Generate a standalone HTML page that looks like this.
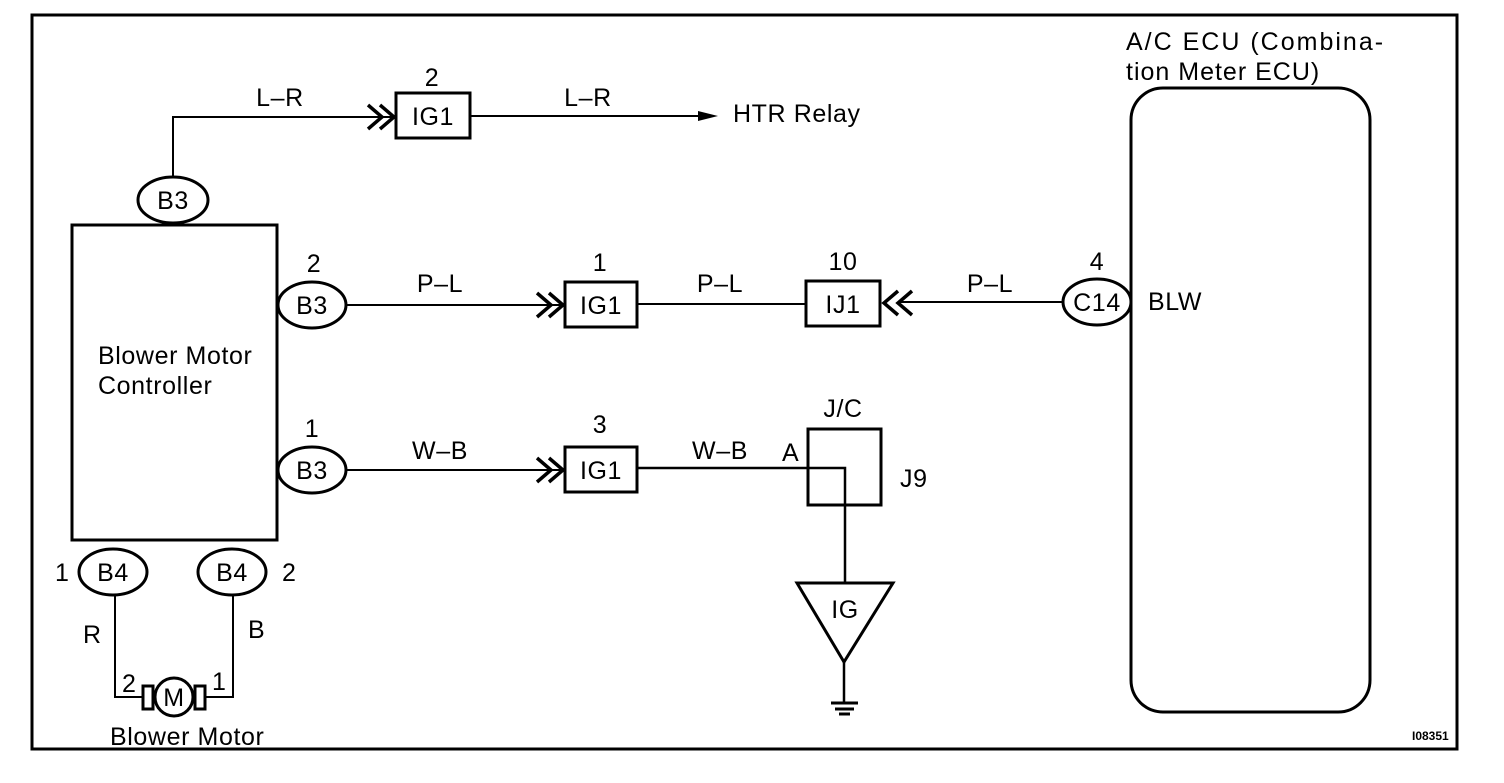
<!DOCTYPE html>
<html><head><style>
html,body{margin:0;padding:0;background:#fff;}
svg text{font-family:"Liberation Sans",Arial,sans-serif;fill:#000;}
</style></head><body>
<svg width="1504" height="778" viewBox="0 0 1504 778" xmlns="http://www.w3.org/2000/svg">
<g fill="none" stroke="#000" stroke-width="3">
<rect x="32" y="15" width="1425" height="734"/>
<rect x="72" y="225" width="205" height="315"/>
<ellipse cx="173" cy="200" rx="35" ry="23"/>
<polyline points="173,177 173,117 392,117" stroke-width="2"/>
<polyline points="368,105 382,117 368,129" stroke-width="3.5"/>
<polyline points="380,105 394,117 380,129" stroke-width="3.5"/>
<rect x="396" y="93" width="74" height="45"/>
<line x1="470" y1="116" x2="700" y2="116" stroke-width="2"/>
<ellipse cx="312" cy="305" rx="34" ry="23"/>
<line x1="346" y1="305" x2="563" y2="305" stroke-width="2"/>
<polyline points="537,293 551,305 537,317" stroke-width="3.5"/>
<polyline points="549,293 563,305 549,317" stroke-width="3.5"/>
<rect x="565" y="282" width="72" height="45"/>
<line x1="637" y1="304" x2="805" y2="304" stroke-width="2"/>
<rect x="806" y="281" width="74" height="45"/>
<polyline points="898,291 884,303 898,315" stroke-width="3.5"/>
<polyline points="912,291 898,303 912,315" stroke-width="3.5"/>
<line x1="898" y1="302" x2="1063" y2="302" stroke-width="2"/>
<ellipse cx="1097" cy="302" rx="34" ry="23"/>
<rect x="1131" y="88" width="239" height="624" rx="32"/>
<ellipse cx="312" cy="470" rx="34" ry="23"/>
<line x1="346" y1="470" x2="563" y2="470" stroke-width="2"/>
<polyline points="537,458 551,470 537,482" stroke-width="3.5"/>
<polyline points="549,458 563,470 549,482" stroke-width="3.5"/>
<rect x="565" y="447" width="72" height="45"/>
<polyline points="637,468 845,468 845,583" stroke-width="2.5"/>
<rect x="808" y="429" width="73" height="76"/>
<polygon points="797,583 893,583 844,662"/>
<line x1="844" y1="662" x2="844" y2="703" stroke-width="2.5"/>
<line x1="831" y1="703" x2="858" y2="703"/>
<line x1="835" y1="709" x2="854" y2="709"/>
<line x1="839" y1="714" x2="850" y2="714"/>
<ellipse cx="113" cy="572" rx="34" ry="23"/>
<ellipse cx="232" cy="572" rx="34" ry="23"/>
<polyline points="115,595 115,697 143,697" stroke-width="2"/>
<polyline points="233,595 233,697 205,697" stroke-width="2"/>
<rect x="143" y="686" width="10" height="23"/>
<rect x="195" y="686" width="10" height="23"/>
<circle cx="174" cy="697" r="19"/>
</g>
<polygon points="698,111 718,116 698,121" fill="#000"/>
<g font-size="25" letter-spacing="0.6">
<text x="432" y="86" text-anchor="middle">2</text>
<text x="433" y="125" text-anchor="middle">IG1</text>
<text x="280" y="106" text-anchor="middle">L–R</text>
<text x="588" y="106" text-anchor="middle">L–R</text>
<text x="733" y="122">HTR Relay</text>
<text x="173" y="209" text-anchor="middle">B3</text>
<text x="314" y="272" text-anchor="middle">2</text>
<text x="312" y="314" text-anchor="middle">B3</text>
<text x="440" y="292" text-anchor="middle">P–L</text>
<text x="600" y="271" text-anchor="middle">1</text>
<text x="601" y="314" text-anchor="middle">IG1</text>
<text x="720" y="292" text-anchor="middle">P–L</text>
<text x="843" y="270" text-anchor="middle">10</text>
<text x="843" y="313" text-anchor="middle">IJ1</text>
<text x="990" y="292" text-anchor="middle">P–L</text>
<text x="1097" y="270" text-anchor="middle">4</text>
<text x="1097" y="311" text-anchor="middle">C14</text>
<text x="1148" y="310">BLW</text>
<text x="1126" y="50" letter-spacing="2">A/C ECU (Combina-</text>
<text x="1126" y="80" letter-spacing="1">tion Meter ECU)</text>
<text x="98" y="364">Blower Motor</text>
<text x="98" y="394">Controller</text>
<text x="312" y="437" text-anchor="middle">1</text>
<text x="312" y="479" text-anchor="middle">B3</text>
<text x="440" y="459" text-anchor="middle">W–B</text>
<text x="600" y="433" text-anchor="middle">3</text>
<text x="601" y="479" text-anchor="middle">IG1</text>
<text x="720" y="459" text-anchor="middle">W–B</text>
<text x="782" y="461">A</text>
<text x="843" y="417" text-anchor="middle">J/C</text>
<text x="900" y="487">J9</text>
<text x="845" y="618" text-anchor="middle">IG</text>
<text x="113" y="581" text-anchor="middle">B4</text>
<text x="232" y="581" text-anchor="middle">B4</text>
<text x="55" y="581">1</text>
<text x="282" y="581">2</text>
<text x="83" y="643">R</text>
<text x="248" y="638">B</text>
<text x="122" y="692">2</text>
<text x="212" y="690">1</text>
<text x="174" y="706" text-anchor="middle">M</text>
<text x="110" y="745">Blower Motor</text>
</g>
<text x="1412" y="740" font-size="12" font-weight="bold">I08351</text>
</svg>
</body></html>
